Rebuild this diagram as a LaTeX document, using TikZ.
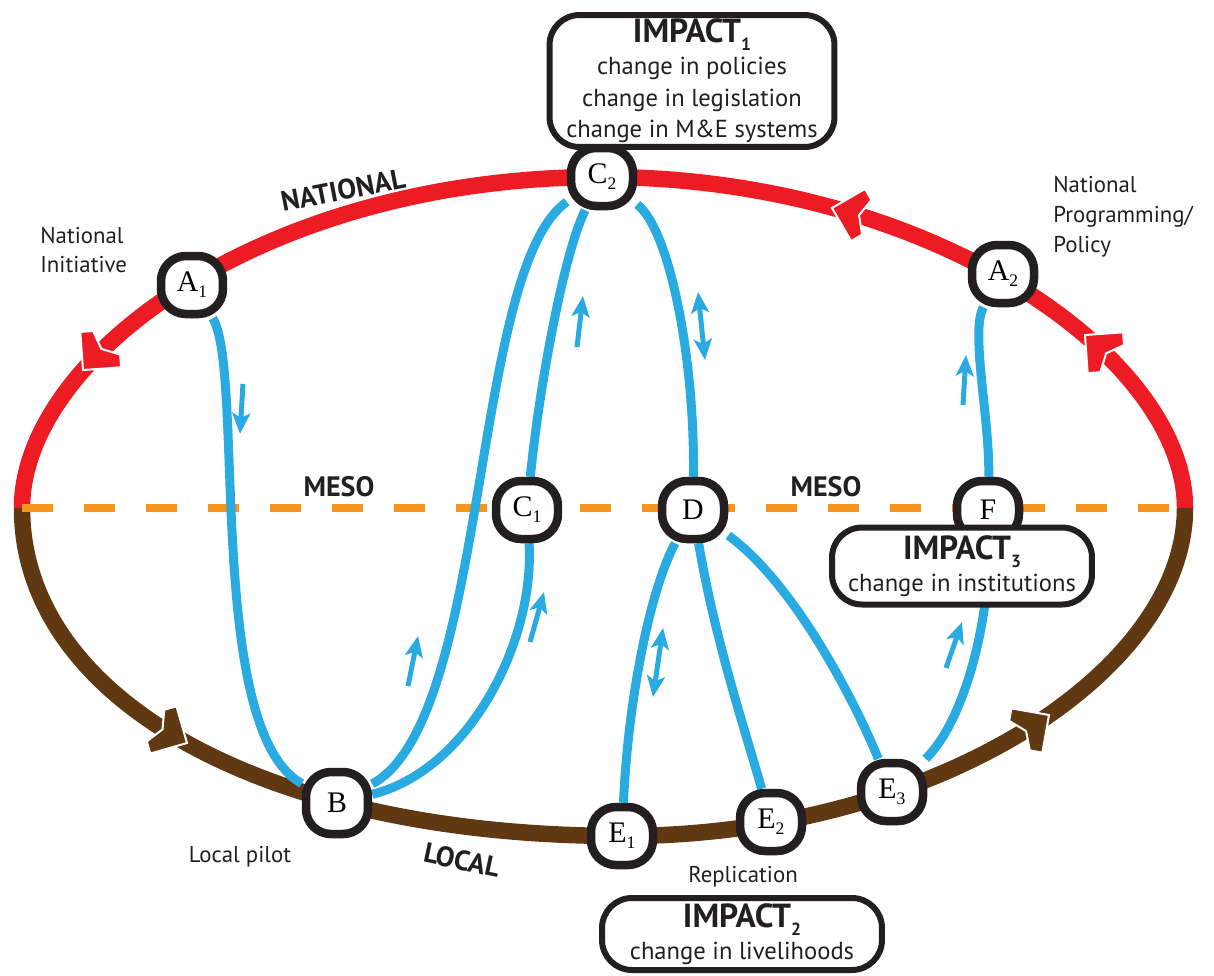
\documentclass[tikz,border=0pt]{standalone}
\usepackage{fontspec}
\setmainfont{PT Sans}
\newfontfamily\letterfont{Liberation Serif}
\usepackage{xcolor}
\usepackage{tikz}
\usetikzlibrary{arrows.meta, backgrounds}
\definecolor{natred}{HTML}{ED1C24}
\definecolor{locbrown}{HTML}{603913}
\definecolor{linkblue}{HTML}{29ABE2}
\definecolor{mesoorange}{HTML}{F7941D}
\definecolor{inkblack}{HTML}{231F20}
\newcommand{\lowidx}[2][10]{\raisebox{-0.45ex}{\fontsize{#1}{#1}\selectfont #2}}
\tikzstyle{ring} = [line width=0.33cm]
\tikzstyle{link} = [line width=0.18cm, draw=linkblue]
\tikzstyle{stage} = [rectangle, rounded corners=0.5cm, draw=inkblack, line width=0.17cm, fill=white, minimum width=1.24cm, minimum height=1.16cm, inner sep=0pt, font=\letterfont\fontsize{17}{17}\selectfont]
\tikzstyle{impact} = [rectangle, rounded corners=0.6cm, draw=inkblack, line width=0.12cm, fill=white, align=center, inner sep=0pt, font=\fontsize{14}{18}\selectfont, text=inkblack]
\tikzset{chevron/.pic={\path[pic actions, draw=white, line width=0.04cm] (0,0) -- (-27,27) -- (-36,18) -- (-28,0) -- (-36,-18) -- (-27,-27) -- cycle;}}

\begin{document}
\begin{tikzpicture}[
    x=0.02cm, y=-0.02cm,
    note/.style={font=\fontsize{13}{17}\selectfont, align=left, text=inkblack, inner sep=0pt},
    levelname/.style={font=\bfseries\fontsize{16}{16}\selectfont, text=inkblack, inner sep=0pt},
    flow/.style={line width=0.1cm, draw=linkblue, -{Stealth[length=0.42cm, width=0.36cm, inset=0.1cm]}},
    flow both/.style={line width=0.1cm, draw=linkblue, {Stealth[length=0.42cm, width=0.36cm, inset=0.1cm]}-{Stealth[length=0.42cm, width=0.36cm, inset=0.1cm]}}
]
\useasboundingbox (0,0) rectangle (1214,975);

% Nodes
\node[stage] (A1) at (192,285) {A\lowidx{1}};
\node[stage] (A2) at (1003,274) {A\lowidx{2}};
\node[stage] (C2) at (602,177) {C\lowidx{2}};
\node[stage] (C1) at (527,510) {C\lowidx{1}};
\node[stage] (D) at (693,510) {D};
\node[stage] (F) at (988,510) {F};
\node[stage, minimum height=1.24cm] (B) at (337,803) {B};
\node[stage] (E1) at (622,836) {E\lowidx{1}};
\node[stage] (E2) at (771,822) {E\lowidx{2}};
\node[stage] (E3) at (892,792) {E\lowidx{3}};
\coordinate (west) at (22,508);
\coordinate (east) at (1185,508);

% Impact boxes
\node[impact, minimum width=5.7cm, minimum height=2.64cm] (impact1) at (692,81)
  {{\bfseries\fontsize{19}{20}\selectfont IMPACT\lowidx{1}}\\change in policies\\change in legislation\\change in M\&E systems};
\node[impact, minimum width=5.6cm, minimum height=1.44cm] (impact2) at (742,934)
  {{\bfseries\fontsize{19}{20}\selectfont IMPACT\lowidx{2}}\\change in livelihoods};
\node[impact, minimum width=5.2cm, minimum height=1.54cm] (impact3) at (962,566)
  {{\bfseries\fontsize{19}{20}\selectfont IMPACT\lowidx{3}}\\change in institutions};

% Labels
\node[note, anchor=west] (initiative) at (40,250) {National\\Initiative};
\node[note, anchor=west] (programming) at (1053,217) {National\\Programming/\\Policy};
\node[note] (pilot) at (240,857) {Local pilot};
\node[note] (replication) at (743,877) {Replication};
\node[levelname, rotate=11] (national) at (343,190) {NATIONAL};
\node[levelname, rotate=-12] (local) at (462,860) {LOCAL};
\node[levelname] (meso west) at (339,487) {MESO};
\node[levelname] (meso east) at (826,487) {MESO};

\begin{scope}[on background layer]
% Levels
\draw[ring, natred] (west) .. controls (22,358) and (262,177) .. (C2.center)
  .. controls (932,177) and (1185,358) .. (east);
\draw[ring, locbrown] (east) .. controls (1185,673) and (932,836) .. (E1.center)
  .. controls (262,836) and (22,698) .. (west);
\draw[mesoorange, line width=0.16cm, dash pattern=on 0.62cm off 0.62cm] (west) -- (east);

% Arrow heads on the levels
\pic[fill=natred, rotate=-131] at (83,370) {chevron};
\pic[fill=natred, rotate=165] at (832,208) {chevron};
\pic[fill=natred, rotate=139] at (1085,335) {chevron};
\pic[fill=locbrown, rotate=-29] at (187,743) {chevron};
\pic[fill=locbrown, rotate=35] at (1049,715) {chevron};

% Links
\draw[link] (A1) .. controls (245,370) and (205,730) .. (B);
\draw[link] (B) .. controls (490,720) and (470,270) .. (C2);
\draw[link] (B) .. controls (470,770) and (535,640) .. (C1);
\draw[link] (C1) .. controls (540,380) and (565,250) .. (C2);
\draw[link] (C2) .. controls (670,230) and (695,360) .. (D);
\draw[link] (D) .. controls (650,590) and (628,700) .. (E1);
\draw[link] (D) .. controls (715,640) and (745,730) .. (E2);
\draw[link] (D) .. controls (790,580) and (850,690) .. (E3);
\draw[link] (E3) .. controls (965,720) and (990,620) .. (F);
\draw[link] (F) .. controls (990,420) and (970,330) .. (A2);

% Small arrows
\draw[flow] (243,384) -- (240,434);
\draw[flow] (577,347) -- (583,296);
\draw[flow both] (698,292) -- (705,360);
\draw[flow] (963,405) -- (966,355);
\draw[flow] (408,686) -- (418,636);
\draw[flow] (530,642) -- (544,592);
\draw[flow both] (653,697) -- (663,628);
\draw[flow] (946,668) -- (962,622);
\end{scope}

\end{tikzpicture}
\end{document}
